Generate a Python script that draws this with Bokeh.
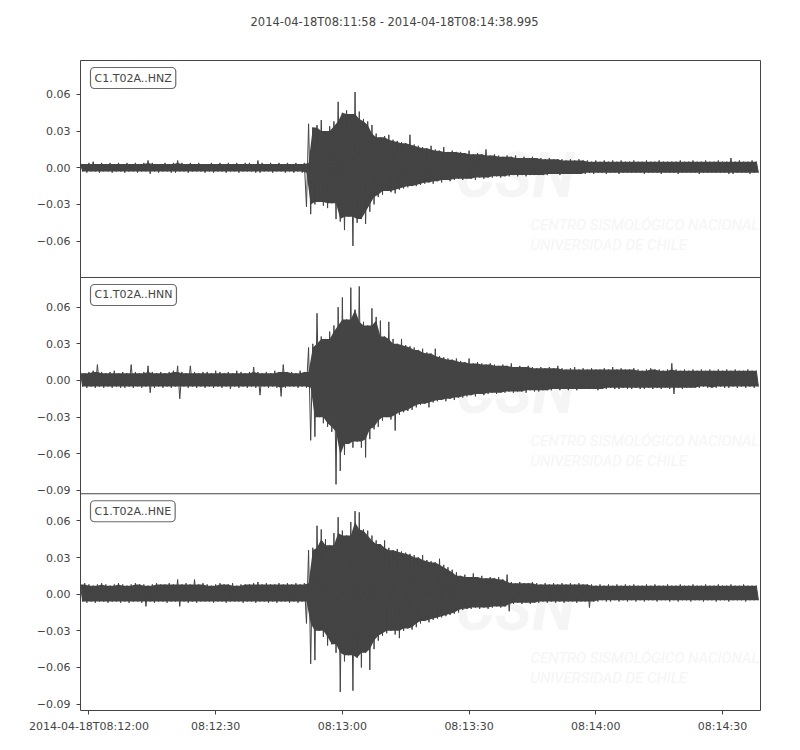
import numpy as np
from bokeh.plotting import figure
from bokeh.models import Range1d, FixedTicker, Label, Span, Title
from bokeh.embed import file_html
from bokeh.resources import INLINE

# ---------------- data ----------------
title_text = "2014-04-18T08:11:58  -  2014-04-18T08:14:38.995"
start_offset_s = -2.0        # 08:11:58 relative to 08:12:00
end_offset_s = 158.995       # 08:14:38.995 relative to 08:12:00
sample_interval_s = 0.5

trace_ids = ["C1.T02A..HNZ", "C1.T02A..HNN", "C1.T02A..HNE"]

x_tick_values = [0, 30, 60, 90, 120, 150]
x_tick_labels = ["2014-04-18T08:12:00", "08:12:30", "08:13:00",
                 "08:13:30", "08:14:00", "08:14:30"]
y_tick_values = [-0.09, -0.06, -0.03, 0.0, 0.03, 0.06]
y_tick_labels = ["\u22120.09", "\u22120.06", "\u22120.03", "0.00", "0.03", "0.06"]

# per-panel amplitude limits (top, middle, bottom)
y_limits = [(-0.0898, 0.0878), (-0.0927, 0.0843), (-0.0952, 0.0822)]

# peak amplitudes, in units of 0.001, one per half second
hnz_milli = [
    4, -3, 3, -4, 4, -3, 5, -3, 3, -4, 4, -3, 3, -3, 4, -4, 3, -3, 4, -3,
    3, -4, 4, -3, 3, -3, 4, -4, 3, -3, 4, -3, 6, -5, 4, -3, 3, -4, 3, -3,
    4, -3, 3, -4, 4, -4, 6, -3, 4, -3, 3, -4, 4, -3, 3, -3, 4, -3, 3, -4,
    3, -3, 4, -4, 3, -3, 4, -3, 3, -4, 4, -3, 3, -3, 4, -4, 3, -3, 4, -3,
    4, -3, 3, -4, 6, -4, 4, -3, 3, -3, 4, -4, 3, -3, 4, -3, 3, -4, 4, -3,
    3, -4, 4, -3, 3, -4, 4, -32, 36, -38, 33, -30, 35, -28, 39, -31, 30, -33, 34, -29,
    38, -42, 54, -44, 45, -51, 47, -40, 44, -64, 62, -45, 46, -42, 40, -46, 38, -36, 35, -30,
    28, -24, 25, -22, 26, -19, 27, -20, 23, -21, 22, -18, 21, -17, 20, -16, 27, -15, 19, -15,
    18, -14, 17, -13, 16, -12, 18, -13, 15, -11, 14, -12, 17, -10, 13, -11, 14, -10, 13, -9,
    13, -10, 12, -9, 14, -9, 11, -10, 12, -8, 11, -9, 15, -8, 10, -8, 11, -7, 10, -8,
    9, -7, 10, -7, 9, -6, 10, -7, 8, -6, 9, -7, 8, -6, 9, -6, 8, -6, 8, -6,
    7, -6, 8, -5, 7, -5, 7, -6, 7, -5, 6, -5, 7, -5, 6, -5, 7, -5, 6, -5,
    6, -4, 5, -5, 6, -4, 5, -4, 6, -5, 5, -4, 6, -4, 5, -5, 6, -4, 5, -4,
    5, -4, 6, -4, 5, -4, 5, -5, 6, -4, 5, -4, 5, -4, 6, -5, 5, -4, 5, -4,
    5, -4, 5, -5, 6, -4, 5, -4, 5, -4, 6, -4, 5, -5, 5, -4, 6, -4, 5, -4,
    5, -4, 6, -4, 5, -4, 5, -5, 8, -5, 5, -4, 6, -4, 5, -4, 5, -5, 6, -4,
    5, -4,
]

hnn_milli = [
    7, -5, 6, -6, 7, -5, 8, -6, 13, -5, 7, -6, 6, -5, 7, -6, 8, -5, 6, -6,
    7, -6, 6, -5, 13, -6, 7, -5, 6, -6, 7, -5, 12, -10, 7, -6, 6, -5, 7, -6,
    6, -5, 7, -6, 8, -5, 12, -15, 7, -5, 6, -6, 12, -5, 7, -6, 6, -5, 7, -6,
    7, -5, 6, -6, 8, -5, 7, -6, 6, -5, 7, -7, 6, -5, 8, -6, 7, -5, 6, -6,
    7, -5, 11, -6, 7, -12, 6, -5, 7, -6, 6, -5, 8, -6, 7, -13, 13, -6, 7, -5,
    7, -5, 6, -6, 8, -5, 7, -6, 27, -49, 30, -46, 55, -30, 36, -35, 34, -38, 40, -42,
    45, -85, 60, -74, 68, -61, 50, -52, 76, -55, 58, -50, 77, -55, 48, -63, 45, -48, 59, -40,
    52, -38, 49, -33, 36, -30, 48, -32, 34, -41, 30, -28, 34, -26, 29, -25, 28, -24, 27, -22,
    25, -20, 26, -19, 23, -22, 22, -18, 26, -17, 20, -16, 19, -17, 18, -15, 17, -16, 18, -14,
    16, -14, 15, -13, 18, -12, 14, -13, 15, -11, 14, -12, 13, -11, 14, -10, 13, -11, 12, -10,
    13, -10, 12, -9, 14, -10, 11, -9, 12, -9, 11, -10, 12, -8, 11, -9, 10, -9, 11, -8,
    10, -8, 11, -8, 10, -7, 12, -8, 10, -7, 9, -8, 10, -7, 11, -8, 9, -7, 10, -7,
    9, -7, 10, -7, 9, -8, 9, -7, 10, -7, 9, -6, 11, -7, 9, -7, 10, -6, 9, -7,
    9, -7, 10, -6, 9, -7, 8, -7, 9, -6, 10, -7, 9, -6, 9, -7, 8, -6, 9, -7,
    14, -11, 9, -6, 8, -7, 9, -6, 8, -6, 9, -6, 8, -6, 9, -5, 8, -6, 9, -6,
    8, -6, 9, -5, 8, -6, 9, -6, 8, -5, 9, -6, 8, -5, 8, -6, 9, -5, 8, -6,
    8, -5,
]

hne_milli = [
    8, -6, 9, -7, 8, -6, 7, -7, 8, -6, 9, -6, 8, -7, 7, -6, 8, -6, 9, -7,
    8, -6, 7, -7, 8, -6, 9, -6, 8, -7, 8, -10, 7, -6, 8, -7, 9, -6, 8, -6,
    8, -7, 9, -6, 8, -6, 12, -10, 8, -6, 9, -7, 8, -6, 12, -7, 8, -6, 9, -6,
    8, -6, 7, -7, 8, -6, 9, -6, 8, -7, 8, -6, 9, -6, 7, -6, 8, -7, 8, -6,
    8, -6, 9, -7, 10, -6, 8, -6, 9, -7, 8, -6, 8, -7, 9, -6, 8, -6, 9, -7,
    8, -6, 9, -7, 8, -6, 9, -24, 36, -57, 38, -54, 56, -30, 53, -35, 45, -42, 40, -41,
    50, -48, 63, -80, 52, -55, 48, -50, 59, -79, 68, -52, 67, -60, 53, -48, 52, -62, 48, -45,
    44, -38, 41, -34, 44, -32, 38, -30, 36, -33, 37, -36, 35, -30, 34, -28, 33, -29, 32, -27,
    30, -24, 32, -22, 28, -23, 27, -21, 26, -20, 29, -19, 24, -18, 22, -17, 20, -16, 18, -15,
    15, -13, 16, -12, 14, -12, 17, -11, 14, -12, 15, -11, 13, -12, 14, -11, 13, -10, 14, -11,
    12, -10, 16, -14, 10, -8, 9, -7, 10, -8, 9, -7, 9, -8, 10, -7, 9, -7, 8, -6,
    9, -7, 8, -6, 9, -7, 8, -6, 9, -7, 8, -6, 9, -6, 8, -7, 9, -6, 8, -6,
    8, -11, 8, -6, 7, -6, 8, -5, 7, -6, 8, -6, 7, -5, 8, -6, 7, -5, 8, -6,
    7, -5, 8, -6, 7, -5, 7, -6, 8, -5, 7, -5, 8, -6, 7, -5, 7, -5, 8, -6,
    7, -5, 7, -6, 8, -5, 7, -5, 7, -6, 8, -5, 7, -5, 7, -6, 8, -5, 7, -5,
    7, -6, 8, -5, 7, -5, 7, -6, 8, -5, 7, -5, 7, -5, 8, -6, 7, -5, 7, -5,
    7, -5,
]

watermark_big = "CSN"
watermark_line1 = "CENTRO SISMOL\u00d3GICO NACIONAL"
watermark_line2 = "UNIVERSIDAD DE CHILE"

# ---------------- styling / layout ----------------
TEXT = "#444444"
TRACE = "#444444"
WATERMARK = "#f5f5f5"
FONT = "DejaVu Sans"
FRAME_W = 680
FRAME_H = 650
LEFT, RIGHT, TOP, BOTTOM = 80, 20, 60, 35

traces = [hnz_milli, hnn_milli, hne_milli]

# stacked coordinate: each panel keeps its own amplitude window, bottom panel first
spans = [hi - lo for lo, hi in y_limits]
total_span = sum(spans)
bases = [0.0] * len(spans)
acc = 0.0
for k in reversed(range(len(spans))):
    bases[k] = acc
    acc += spans[k]
offsets = [bases[k] - y_limits[k][0] for k in range(len(spans))]

units_per_px = total_span / FRAME_H
sec_per_px = (end_offset_s - start_offset_s) / FRAME_W


def core(vals, pick):
    """Solid core of the trace: the smaller peak among each sample and its neighbours."""
    padded = np.pad(vals, 1, mode="edge")
    return pick(pick(padded[:-2], padded[1:-1]), padded[2:])


p = figure(width=LEFT + FRAME_W + RIGHT, height=TOP + FRAME_H + BOTTOM,
           x_range=Range1d(start_offset_s, end_offset_s),
           y_range=Range1d(0.0, total_span),
           output_backend="svg", toolbar_location=None,
           min_border_left=LEFT, min_border_right=RIGHT,
           min_border_top=TOP, min_border_bottom=BOTTOM,
           title=title_text)
p.background_fill_color = "white"
p.border_fill_color = "white"
p.outline_line_color = TEXT
p.outline_line_width = 1
p.grid.visible = False

# invisible spacer between the frame and the title, lifting the title up
p.add_layout(Title(text=" ", text_font=FONT, text_font_size="11.5px",
                   text_color="white", standoff=6), "above")

y_ticks = []
y_overrides = {}
for k, amps in enumerate(traces):
    lo, hi = y_limits[k]
    off = offsets[k]
    top_k = bases[k] + spans[k]

    # faint watermark behind the trace
    p.add_layout(Label(x=start_offset_s + 375 * sec_per_px, y=top_k - 78 * units_per_px,
                       text=watermark_big, text_align="left", text_baseline="top",
                       text_font="Roboto", text_font_style="bold italic",
                       text_font_size="62px", text_color=WATERMARK, level="underlay"))
    p.add_layout(Label(x=start_offset_s + 450 * sec_per_px, y=top_k - 155 * units_per_px,
                       text=watermark_line1, text_align="left", text_baseline="top",
                       text_font="Roboto", text_font_style="italic",
                       text_font_size="15px", text_color=WATERMARK, level="underlay"))
    p.add_layout(Label(x=start_offset_s + 450 * sec_per_px, y=top_k - 175 * units_per_px,
                       text=watermark_line2, text_align="left", text_baseline="top",
                       text_font="Roboto", text_font_style="italic",
                       text_font_size="15px", text_color=WATERMARK, level="underlay"))

    t = start_offset_s + sample_interval_s * np.arange(len(amps))
    y = np.array(amps, dtype=float) / 1000.0
    pos = y >= 0
    up = core(y[pos], np.minimum)
    dn = core(y[~pos], np.maximum)
    band_x = np.concatenate([t[pos], t[~pos][::-1]])
    band_y = np.concatenate([up, dn[::-1]]) + off
    p.patch(band_x, band_y, fill_color=TRACE, line_color=None)
    p.line(t, y + off, line_color=TRACE, line_width=1)

    p.add_layout(Label(x=start_offset_s + 10 * sec_per_px, y=top_k - 7 * units_per_px,
                       text=trace_ids[k], text_align="left", text_baseline="top",
                       text_font=FONT, text_font_size="11px", text_color=TEXT,
                       background_fill_color="white", border_line_color="#6a6a6a",
                       border_line_width=1.2, padding=4, border_radius=4))

    for tv, tl in zip(y_tick_values, y_tick_labels):
        if lo < tv < hi:
            pos_v = tv + off
            y_ticks.append(pos_v)
            y_overrides[pos_v] = tl

    if k > 0:
        p.add_layout(Span(location=top_k, dimension="width",
                          line_color=TEXT, line_width=1))

yax = p.yaxis[0]
yax.ticker = FixedTicker(ticks=y_ticks)
yax.major_label_overrides = y_overrides
yax.axis_line_color = None
yax.major_tick_line_color = TEXT
yax.major_tick_out = 4
yax.major_tick_in = 0
yax.minor_tick_line_color = None
yax.major_label_text_font = FONT
yax.major_label_text_font_size = "11px"
yax.major_label_text_color = TEXT
yax.major_label_standoff = 6

xax = p.xaxis[0]
xax.ticker = FixedTicker(ticks=x_tick_values)
xax.major_label_overrides = dict(zip(x_tick_values, x_tick_labels))
xax.axis_line_color = None
xax.major_tick_line_color = TEXT
xax.major_tick_out = 4
xax.major_tick_in = 0
xax.minor_tick_line_color = None
xax.major_label_text_font = FONT
xax.major_label_text_font_size = "11px"
xax.major_label_text_color = TEXT
xax.major_label_standoff = 5

p.title.text_font = FONT
p.title.text_font_style = "normal"
p.title.text_font_size = "11.5px"
p.title.text_color = TEXT
p.title.align = "left"
p.title.offset = 170
p.title.standoff = 20

open("out.html", "w").write(file_html(p, INLINE))
